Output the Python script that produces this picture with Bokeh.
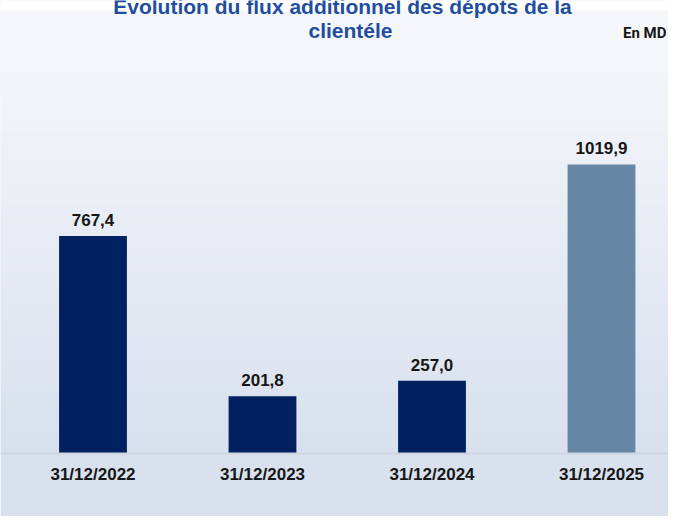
import numpy as np
from bokeh.plotting import figure
from bokeh.models import ColumnDataSource, Range1d, FixedTicker, LabelSet, Label
from bokeh.core.properties import value
from bokeh.embed import file_html
from bokeh.resources import INLINE

# ---- data ----
categories = ["31/12/2022", "31/12/2023", "31/12/2024", "31/12/2025"]
values = [767.4, 201.8, 257.0, 1019.9]
bar_colors = ["#002060", "#002060", "#002060", "#6686a6"]
title_line1 = "Evolution du flux additionnel des dépots de la"
title_line2 = "clientéle"
unit_label = "En MD"

positions = list(range(len(categories)))
value_labels = [f"{v:.1f}".replace(".", ",") for v in values]

W, H = 668, 516
FRAME_H = 453
X0, X1 = -0.5457, 3.3953
Y0, Y1 = 0, 1598

p = figure(width=W, height=H, output_backend="svg", toolbar_location=None,
           x_range=Range1d(X0, X1), y_range=Range1d(Y0, Y1),
           y_axis_location=None,
           min_border_left=0, min_border_right=0, min_border_top=0,
           min_border_bottom=H - FRAME_H)
p.outline_line_color = None
p.grid.visible = False
p.border_fill_color = "#d9e1ee"
p.background_fill_color = "#eef1f6"

# ---- background gradient (styling) ----
def hex2rgb(h):
    h = h.lstrip("#")
    return np.array([int(h[i:i + 2], 16) for i in (0, 2, 4)], dtype=float)

top_c, mid_c, bot_c = hex2rgb("#f5f6f9"), hex2rgb("#f4f6f9"), hex2rgb("#d8e0ee")
rows = []
for r in range(FRAME_H):
    if r < 10:
        c = np.array([255.0, 255.0, 255.0])
    elif r < 53:
        c = top_c
    else:
        t = (r - 53) / (453 - 53)
        c = mid_c + (bot_c - mid_c) * t
    rows.append(c)
rows = np.array(rows[::-1])  # bottom row first
img = np.empty((FRAME_H, 1), dtype=np.uint32)
view = img.view(dtype=np.uint8).reshape((FRAME_H, 1, 4))
view[:, 0, 0] = rows[:, 0].round()
view[:, 0, 1] = rows[:, 1].round()
view[:, 0, 2] = rows[:, 2].round()
view[:, 0, 3] = 255
p.image_rgba(image=[img], x=X0, y=Y0, dw=X1 - X0, dh=Y1 - Y0)

# ---- bars ----
src = ColumnDataSource(dict(x=positions, top=values, color=bar_colors,
                            label=value_labels))
p.vbar(x="x", top="top", width=0.4, bottom=0, fill_color="color",
       line_color=None, source=src)

labels = LabelSet(x="x", y="top", text="label", source=src,
                  text_align="center", text_baseline="alphabetic", y_offset=10,
                  text_font=value("Liberation Sans"), text_font_style="bold",
                  text_font_size="17px", text_color="#161616")
p.add_layout(labels)

# ---- x axis ----
ax = p.xaxis[0]
ax.ticker = FixedTicker(ticks=positions)
ax.major_label_overrides = {i: c for i, c in zip(positions, categories)}
ax.major_tick_line_color = None
ax.minor_tick_line_color = None
ax.major_tick_out = 0
ax.major_tick_in = 0
ax.axis_line_color = "#cdd5e1"
ax.axis_line_width = 2
ax.major_label_standoff = 11
ax.major_label_text_font = "Liberation Sans"
ax.major_label_text_font_style = "bold"
ax.major_label_text_font_size = "17px"
ax.major_label_text_color = "#161616"

# ---- title and unit ----
p.add_layout(Label(x=342, y=FRAME_H - 6, x_units="screen", y_units="screen",
                   text=title_line1, text_align="center", text_baseline="alphabetic",
                   text_font="Liberation Sans", text_font_style="bold",
                   text_font_size="21px", text_color="#1f4e9e"))
p.add_layout(Label(x=350, y=FRAME_H - 30, x_units="screen", y_units="screen",
                   text=title_line2, text_align="center", text_baseline="alphabetic",
                   text_font="Liberation Sans", text_font_style="bold",
                   text_font_size="21px", text_color="#1f4e9e"))
p.add_layout(Label(x=666, y=FRAME_H - 32, x_units="screen", y_units="screen",
                   text=unit_label, text_align="right", text_baseline="alphabetic",
                   text_font="Roboto", text_font_style="bold",
                   text_font_size="15px", text_color="#161616"))

open("out.html", "w").write(file_html(p, INLINE))
